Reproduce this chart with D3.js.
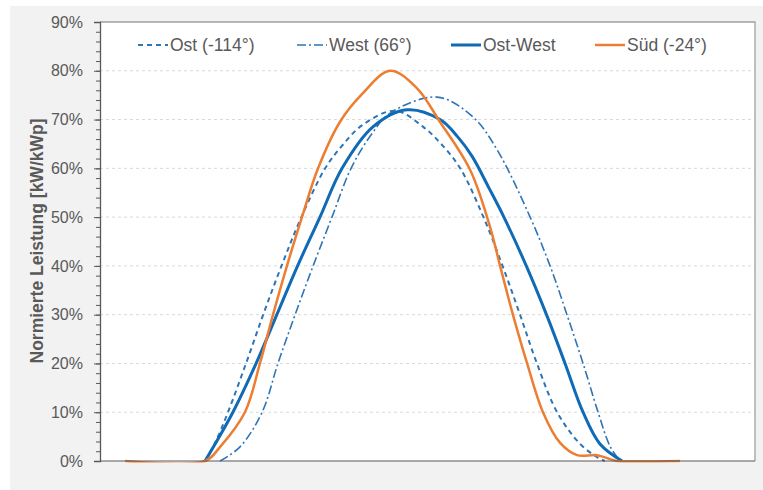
<!DOCTYPE html>
<html>
<head>
<meta charset="utf-8">
<script src="https://cdn.jsdelivr.net/npm/d3@7"></script>
<style>
  body { margin: 0; background: #fff; }
  text { font-family: "Liberation Sans", Arial, sans-serif; }
</style>
</head>
<body>
<div id="chart"></div>
<script>
// series data: [hour of day, normalized power in %]
var ost = [[3.85,0],[4.2,3.5],[4.69,10],[5.35,20],[5.98,30],[6.65,40],[7.38,50],[8.25,60],[8.85,64.5],[9.6,68.8],
  [10.81,71.8],[11.84,68.5],[12.5,65],[13.2,60],[14.05,50],[14.75,40],[15.39,30],[16.01,20],[16.75,10],[17.59,3.5],[18.21,0.8],[18.5,0]];
var west = [[4.40,0],[5.13,2.9],[5.94,10],[6.52,20],[7.15,30],[7.81,40],[8.50,50],[9.20,60],[9.95,67],[10.63,71.3],
  [12.35,74.6],[13.67,70.5],[14.55,63.8],[15.76,50],[16.49,40],[17.11,30],[17.70,20],[18.25,10],[18.69,3],[19.05,0]];
var ostWest = [[3.85,0],[4.87,10],[5.72,20],[6.48,30],[7.24,40],[8.06,50],[8.87,60],[10.0,68.5],[11.25,72],[12.46,70],
  [13.1,66.5],[13.63,62.5],[14.25,56],[14.8,50],[15.62,40],[16.36,30],[17.04,20],[17.70,10],[18.32,3.5],[19.13,0]];
var sued = [[0.92,0],[3.85,0],[4.40,2.9],[5.31,10],[5.86,20],[6.34,30],[6.85,40],[7.40,50],[7.99,60],
  [8.79,69.5],[9.60,75.2],[10.63,80],[11.6,76.5],[12.46,69.5],[13.56,59.7],[14.29,48],
  [14.66,40],[15.13,30],[15.65,20],[16.23,10],[16.86,3.7],[17.48,1.2],[18.21,1.2],[18.80,0.2],[18.94,0],[21.25,0]];

var legendLabels = ["Ost (-114°)", "West (66°)", "Ost-West", "Süd (-24°)"];
var yTicks = [0, 10, 20, 30, 40, 50, 60, 70, 80, 90];

var width = 763, height = 490;
var plot = {left: 100, right: 755, top: 22, bottom: 461};

var svg = d3.select("#chart").append("svg")
  .attr("width", width)
  .attr("height", height);

// grey panel + white plot area
svg.append("rect").attr("x", 10).attr("y", 6).attr("width", width - 10).attr("height", height - 6).attr("fill", "#f2f2f2");
svg.append("rect").attr("x", plot.left).attr("y", plot.top)
  .attr("width", plot.right - plot.left).attr("height", plot.bottom - plot.top)
  .attr("fill", "#fff");

svg.append("clipPath").attr("id", "clip")
  .append("rect").attr("x", plot.left).attr("y", plot.top)
  .attr("width", plot.right - plot.left).attr("height", plot.bottom - plot.top + 1.5);

var x = d3.scaleLinear().domain([0, 24]).range([plot.left, plot.right]);
var y = d3.scaleLinear().domain([0, 90]).range([plot.bottom, plot.top]);

// gridlines
svg.append("g").selectAll("line")
  .data(yTicks.filter(function(d) { return d > 0 && d < 90; }))
  .enter().append("line")
    .attr("x1", plot.left).attr("x2", plot.right)
    .attr("y1", function(d) { return y(d); }).attr("y2", function(d) { return y(d); })
    .attr("stroke", "#d9d9d9").attr("stroke-width", 1).attr("stroke-dasharray", "3,3");

// top and right border
svg.append("path")
  .attr("d", "M" + plot.left + "," + plot.top + "H" + plot.right + "V" + plot.bottom)
  .attr("fill", "none").attr("stroke", "#a0a0a0").attr("stroke-width", 1.3);

// minor ticks
var minor = svg.append("g")
  .attr("transform", "translate(" + plot.left + ",0)")
  .call(d3.axisLeft(y).tickValues(d3.range(0, 91, 2)).tickSize(4).tickFormat(""));
minor.select(".domain").remove();
minor.selectAll("line").attr("stroke", "#595959");

// y axis
var yAxis = svg.append("g")
  .attr("transform", "translate(" + plot.left + ",0)")
  .call(d3.axisLeft(y).tickValues(yTicks).tickSize(6).tickPadding(11)
    .tickFormat(function(d) { return d + "%"; }));
yAxis.select(".domain").attr("stroke", "#595959").attr("stroke-width", 1.3);
yAxis.selectAll("line").attr("stroke", "#595959");
yAxis.selectAll("text").attr("fill", "#595959").style("font-size", "16px")
  .style("font-family", "'Liberation Sans', Arial, sans-serif");

svg.append("text")
  .attr("transform", "translate(43," + 241 + ") rotate(-90)")
  .attr("text-anchor", "middle")
  .attr("fill", "#595959")
  .style("font-size", "17.5px")
  .style("font-weight", "bold")
  .text("Normierte Leistung [kW/kWp]");

var line = d3.line()
  .x(function(d) { return x(d[0]); })
  .y(function(d) { return y(d[1]); })
  .curve(d3.curveCatmullRom.alpha(0.5));

var series = [
  {data: ost, color: "#2e75b6", width: 2, dash: "5,4"},
  {data: west, color: "#2e75b6", width: 1.6, dash: "9,3,2,3"},
  {data: ostWest, color: "#0f6bb5", width: 3, dash: null},
  {data: sued, color: "#ed7d31", width: 2.5, dash: null}
];

svg.append("g").attr("clip-path", "url(#clip)")
  .selectAll("path")
  .data(series)
  .enter().append("path")
    .attr("d", function(d) { return line(d.data); })
    .attr("fill", "none")
    .attr("stroke", function(d) { return d.color; })
    .attr("stroke-width", function(d) { return d.width; })
    .attr("stroke-dasharray", function(d) { return d.dash; });

// x axis baseline
svg.append("line")
  .attr("x1", plot.left).attr("x2", plot.right)
  .attr("y1", y(0)).attr("y2", y(0))
  .attr("stroke", "#595959").attr("stroke-width", 1.2);

// legend
var legendX = [138, 297, 451, 595];
var leg = svg.append("g").selectAll("g")
  .data(series)
  .enter().append("g")
    .attr("transform", function(d, i) { return "translate(" + legendX[i] + ",45)"; });
leg.append("line")
  .attr("x1", 0).attr("x2", 30).attr("y1", 0).attr("y2", 0)
  .attr("stroke", function(d) { return d.color; })
  .attr("stroke-width", function(d) { return d.width; })
  .attr("stroke-dasharray", function(d) { return d.dash; });
leg.append("text")
  .attr("x", 32).attr("y", 6)
  .attr("fill", "#595959")
  .style("font-size", "17.5px")
  .text(function(d, i) { return legendLabels[i]; });
</script>
</body>
</html>
